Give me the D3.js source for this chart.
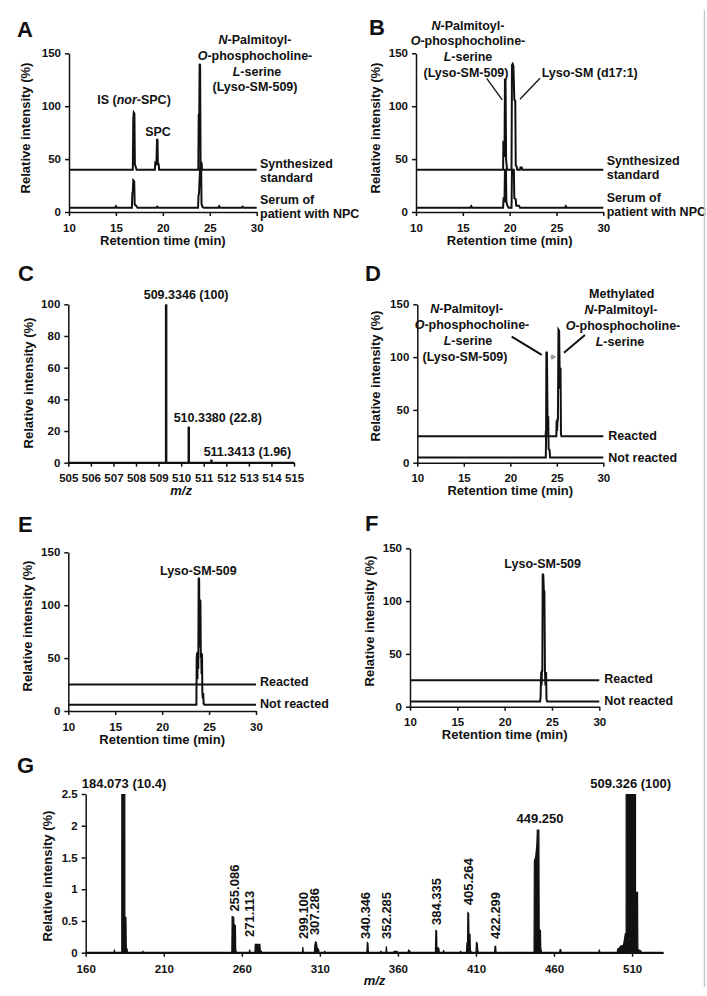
<!DOCTYPE html>
<html><head><meta charset="utf-8">
<script src="https://cdn.jsdelivr.net/npm/d3@7"></script>
<style>
body{margin:0;background:#fff;}
svg{display:block;font-family:"Liberation Sans",Arial,Helvetica,sans-serif;}
</style></head>
<body><svg id="c" width="707" height="996"></svg>
<script>
// ---------------- DATA ----------------
const rtTicks = [10, 15, 20, 25, 30];
const riTicks = [0, 50, 100, 150];
const mzTicksC = [505, 506, 507, 508, 509, 510, 511, 512, 513, 514, 515];
const riTicksC = [0, 20, 40, 60, 80, 100];
const mzTicksG = [160, 210, 260, 310, 360, 410, 460, 510];
const riTicksG = [0, 0.5, 1, 1.5, 2, 2.5];

// Panel A: retention time (min), relative intensity (%)
const aSynth = [[10,40],[16.8,40],[16.85,88],[16.9,94],[16.97,93],[17.02,45],[17.1,43],[17.2,40],
  [19.15,40],[19.2,48],[19.26,44],[19.32,48],[19.38,69],[19.43,68],[19.47,47],[19.52,44],[19.55,46],[19.6,40],
  [23.78,40],[23.82,92],[23.88,93],[23.92,140],[23.97,139],[24.02,48],[24.07,44],[24.12,47],[24.17,40],[30,40]];
const aSerum = [[10,4],[14.9,4],[15.0,5.5],[15.1,4],[16.7,4],[16.75,18],[16.8,19],[16.85,30],[16.95,29],
  [17.0,7],[17.15,6],[17.3,4],[19.3,4],[19.4,5],[19.5,4],[23.75,4],[23.8,16],[23.85,17],[23.9,28],
  [24.0,47],[24.08,46],[24.12,8],[24.2,5],[24.35,4],[25.9,4],[26.0,5.5],[26.1,4],[28.4,4],[28.5,5],[28.6,4],[30,4]];

// Panel B
const bSynth = [[10,40],[19.3,40],[19.33,65],[19.4,64],[19.45,52],[19.5,126],[19.56,125],[19.62,50],[19.7,42],[19.75,40],
  [20.2,40],[20.25,139],[20.32,140],[20.4,138],[20.5,106],[20.6,105],[20.65,44],[20.75,43],[20.8,40],
  [21.1,40],[21.15,42],[21.3,42],[21.35,40],[30,40]];
const bSerum = [[10,4],[15.8,4],[15.9,5.5],[16,4],[19.3,4],[19.35,12],[19.45,11],[19.5,40],[19.6,40],[19.65,10],
  [19.75,6],[19.9,4],[20.2,4],[20.25,40],[20.45,40],[20.5,13],[20.65,12],[20.7,6],[21.0,6],[21.1,4],
  [25.9,4],[26,5.5],[26.1,4],[30,4]];

// Panel C: m/z, relative intensity (%)
const cMz = [509.3346, 510.3380, 511.3413];
const cIntensity = [100, 22.8, 1.96];
const cLabels = ["509.3346 (100)", "510.3380 (22.8)", "511.3413 (1.96)"];

// Panel D
const dReacted = [[10,25],[23.8,25],[23.82,30],[23.86,26],[23.9,30],[23.92,25],[24.95,25],[24.98,40],[25.03,30],[25.08,41],[25.12,41],[25.18,126],
  [25.25,125],[25.3,91],[25.35,70],[25.4,90],[25.45,27],[25.5,25],[30,25]];
const dNotReacted = [[10,5],[23.82,5],[23.85,30],[23.88,105],[23.94,104],[24.0,45],[24.04,30],[24.08,44],[24.12,13],[24.22,12],[24.28,5],[30,5]];

// Panel E
const eReacted = [[10,25],[30,25]];
const eNotReacted = [[10,6],[23.65,6],[23.68,50],[23.72,55],[23.76,30],[23.8,56],[23.85,40],[23.89,126],[23.94,125],
  [23.98,60],[24.03,105],[24.08,104],[24.12,50],[24.16,55],[24.2,35],[24.25,54],[24.28,18],[24.33,12],[24.38,17],[24.42,7],[24.5,6],[30,6]];

// Panel F
const fReacted = [[10,25],[30,25]];
const fNotReacted = [[10,5],[23.75,5],[23.8,10],[23.86,33],[23.9,20],[23.94,34],[23.98,34],[24.02,126],[24.08,125],[24.14,110],[24.2,109],
  [24.26,33],[24.31,20],[24.35,32],[24.38,32],[24.42,7],[24.5,5],[30,5]];

// Panel G: MS/MS profile (m/z, relative intensity %)
const gSpectrum = [[160,0],[178.1,0],[178.4,0.05],[178.7,0],
  [183.1,0],[183.3,10.4],[184.9,10.4],[185.1,0.57],[185.8,0.55],[186.0,0.08],[186.5,0.06],[186.8,0],
  [196.3,0],[196.6,0.03],[196.9,0],
  [253.6,0],[253.8,0.57],[254.8,0.56],[255.0,0.44],[255.9,0.43],[256.1,0.05],[256.6,0],
  [264.7,0],[265.0,0.05],[265.4,0],
  [268.4,0],[268.6,0.13],[271.6,0.13],[271.8,0.04],[272.6,0.02],[272.9,0],
  [298.8,0],[299.1,0.09],[299.4,0],
  [306.5,0],[306.8,0.12],[307.2,0.17],[307.8,0.16],[308.2,0.08],[309.2,0.05],[309.5,0],
  [312.8,0],[313.1,0.03],[313.4,0],
  [340.1,0],[340.4,0.16],[340.8,0.15],[341.1,0],
  [348.8,0],[349.1,0.03],[349.4,0],
  [352.3,0],[352.6,0.1],[352.9,0],
  [357.2,0],[357.5,0.02],[359.5,0.02],[359.8,0],
  [366.5,0],[366.8,0.04],[367.6,0.03],[367.9,0],
  [384.0,0],[384.3,0.35],[384.8,0.34],[385.0,0.08],[386.2,0.07],[386.5,0],
  [389.0,0],[389.3,0.04],[389.6,0],
  [399.8,0],[400.1,0.03],[400.4,0],
  [403.9,0],[404.2,0.15],[404.6,0.15],[404.8,0.63],[405.3,0.62],[405.5,0.3],[406.2,0.29],[406.4,0.05],[407.0,0],
  [410.0,0],[410.3,0.16],[410.8,0.15],[411.1,0.05],[411.6,0],
  [421.9,0],[422.2,0.1],[422.6,0.1],[422.9,0],
  [447.2,0],[447.4,1.45],[448.2,1.5],[448.6,1.6],[449.0,1.7],[449.3,1.93],[450.3,1.93],[450.5,0.36],[451.3,0.35],[451.5,0.08],[452.0,0],
  [463.6,0],[463.9,0.05],[464.3,0.05],[464.6,0],
  [488.7,0],[489.0,0.05],[489.4,0],
  [500.5,0],[500.8,0.06],[501.5,0.06],[502.5,0.1],[504.5,0.12],[505.0,0.2],[505.7,0.3],[506.2,0.3],
  [506.4,100],[512.0,100],[512.2,0.95],[513.5,0.95],[513.7,0.05],[515.5,0.03],[516,0],[530,0]];
// rotated peak labels: text, anchor m/z, anchor intensity
const gRotLabels = [["255.086",255.086,0.6],["271.113",265.0,0.2],["299.100",299.6,0.17],["307.286",306.6,0.23],
  ["340.346",339.0,0.17],["352.285",352.5,0.17],["384.335",384.6,0.39],["405.264",405.2,0.70],["422.299",422.3,0.17]];
const gHorLabels = [["184.073 (10.4)",184.6,2.5],["449.250",451.0,1.93],["509.326 (100)",509.1,2.5]];

// ---------------- DRAWING ----------------
const svg = d3.select("#c");
const INK = "#111";
const FS = {tick: 11.5, title: 13, ann: 12.5, g: 13, letter: 22};

function label(x, y, segs, opt = {}) {
  const t = svg.append("text").attr("x", x).attr("y", y)
    .attr("text-anchor", opt.anchor || "start")
    .attr("font-size", opt.size || FS.ann).attr("font-weight", "bold").attr("fill", INK);
  if (opt.dy) t.attr("dy", opt.dy);
  if (opt.rotate) t.attr("transform", `rotate(-90,${x},${y})`);
  (typeof segs === "string" ? [[segs, 0]] : segs).forEach(([s, it]) => {
    const ts = t.append("tspan").text(s);
    if (it) ts.attr("font-style", "italic");
  });
  return t;
}

function styleAxis(g) {
  g.attr("font-size", FS.tick).attr("font-family", null).attr("font-weight", "bold");
  g.selectAll(".domain").attr("stroke", INK).attr("stroke-width", 1.5);
  g.selectAll(".tick line").attr("stroke", INK).attr("stroke-width", 1.5);
  g.selectAll(".tick text").attr("fill", INK);
}

function axes(p, x, y, xt, yt, yfmt) {
  const gx = svg.append("g").attr("transform", `translate(0,${p.y0})`)
    .call(d3.axisBottom(x).tickValues(xt).tickSize(4).tickSizeOuter(0).tickPadding(p.xpad || 7.5).tickFormat(d3.format("d")));
  styleAxis(gx);
  const gy = svg.append("g").attr("transform", `translate(${p.x0},0)`)
    .call(d3.axisLeft(y).tickValues(yt).tickSize(4).tickSizeOuter(0).tickPadding(4).tickFormat(yfmt || d3.format("d")));
  styleAxis(gy);
}

function yTitle(cx, cy) {
  label(cx, cy, "Relative intensity (%)", {anchor: "middle", rotate: true, dy: "0.35em", size: FS.title});
}

function chrom(p) {
  const x = d3.scaleLinear().domain([10, 30]).range([p.x0, p.x1]);
  const y = d3.scaleLinear().domain([0, 150]).range([p.y0, p.yTop]);
  axes(p, x, y, rtTicks, riTicks);
  const line = d3.line().x(d => x(d[0])).y(d => y(d[1]));
  p.traces.forEach(tr => svg.append("path").attr("d", line(tr)).attr("fill", "none")
    .attr("stroke", INK).attr("stroke-width", 2).attr("stroke-linejoin", "miter"));
  label((p.x0 + p.x1) / 2, p.y0 + 32.5, "Retention time (min)", {anchor: "middle", size: FS.title});
  yTitle(p.ytx, p.yty);
  return {x, y};
}

// Panel letters
[["A",17,37],["B",369,35],["C",18,281],["D",365,281],["E",18,532],["F",365,531],["G",17,773]]
  .forEach(([s,x,y]) => label(x, y, s, {size: FS.letter}));

// ---- A ----
chrom({x0: 69, x1: 256.7, y0: 212, yTop: 53.3, traces: [aSynth, aSerum], ytx: 25.5, yty: 128});
label(134, 104, [["IS (",0],["nor",1],["-SPC)",0]], {anchor: "middle"});
label(158, 136, "SPC", {anchor: "middle"});
label(255, 44, [["N",1],["-Palmitoyl-",0]], {anchor: "middle"});
label(255, 59.5, [["O",1],["-phosphocholine-",0]], {anchor: "middle"});
label(257, 75.5, [["L",1],["-serine",0]], {anchor: "middle"});
label(255, 91, "(Lyso-SM-509)", {anchor: "middle"});
label(260, 168, "Synthesized");
label(260, 182, "standard");
label(260, 204, "Serum of");
label(260, 218, "patient with NPC");

// ---- B ----
const bS = chrom({x0: 416, x1: 603.3, y0: 212, yTop: 53.3, traces: [bSynth, bSerum], ytx: 375.8, yty: 128});
label(468, 29.5, [["N",1],["-Palmitoyl-",0]], {anchor: "middle"});
label(468, 45, [["O",1],["-phosphocholine-",0]], {anchor: "middle"});
label(468, 61, [["L",1],["-serine",0]], {anchor: "middle"});
label(466, 77, "(Lyso-SM-509)", {anchor: "middle"});
label(541.7, 77, "Lyso-SM (d17:1)");
[[[17.55,126.4],[19.21,105.9]],[[23.24,126.4],[21.1,106.6]]].forEach(l =>
  svg.append("line").attr("x1", bS.x(l[0][0])).attr("y1", bS.y(l[0][1])).attr("x2", bS.x(l[1][0])).attr("y2", bS.y(l[1][1]))
    .attr("stroke", INK).attr("stroke-width", 1.3));
label(606.7, 165, "Synthesized");
label(606.7, 179, "standard");
label(606.7, 201.5, "Serum of");
label(606.7, 215.5, "patient with NPC");

// ---- C ----
{
  const p = {x0: 68.3, x1: 294, y0: 462.7, yTop: 304.3, xpad: 7.5};
  const x = d3.scaleLinear().domain([505, 515]).range([p.x0, p.x1]);
  const y = d3.scaleLinear().domain([0, 100]).range([p.y0, p.yTop]);
  axes(p, x, y, mzTicksC, riTicksC);
  svg.selectAll(null).data(cMz).enter().append("line")
    .attr("x1", d => x(d)).attr("x2", d => x(d)).attr("y1", y(0)).attr("y2", (d, i) => y(cIntensity[i]))
    .attr("stroke", INK).attr("stroke-width", 2.5);
  svg.append("line").attr("x1", x(505)).attr("x2", x(515)).attr("y1", y(0)).attr("y2", y(0)).attr("stroke", INK).attr("stroke-width", 2);
  const off = [[20, -5], [29, -4.5], [36, -4]];
  cLabels.forEach((s, i) => label(x(cMz[i]) + off[i][0], y(cIntensity[i]) + off[i][1], s, {anchor: "middle"}));
  label((p.x0 + p.x1) / 2, p.y0 + 32, [["m/z",1]], {anchor: "middle", size: FS.title});
  yTitle(28.3, 383);
}

// ---- D ----
const dS = chrom({x0: 417.3, x1: 603.3, y0: 462.7, yTop: 304.3, traces: [dReacted, dNotReacted], ytx: 375, yty: 376});
label(466.7, 313, [["N",1],["-Palmitoyl-",0]], {anchor: "middle"});
label(472, 329, [["O",1],["-phosphocholine-",0]], {anchor: "middle"});
label(468, 345, [["L",1],["-serine",0]], {anchor: "middle"});
label(465, 360.5, "(Lyso-SM-509)", {anchor: "middle"});
label(621.7, 298, "Methylated", {anchor: "middle"});
label(621, 314, [["N",1],["-Palmitoyl-",0]], {anchor: "middle"});
label(623, 329.5, [["O",1],["-phosphocholine-",0]], {anchor: "middle"});
label(620, 345.5, [["L",1],["-serine",0]], {anchor: "middle"});
[[[20.15,119.4],[23.38,102.1]],[[28.03,121],[25.77,104.2]]].forEach(l =>
  svg.append("line").attr("x1", dS.x(l[0][0])).attr("y1", dS.y(l[0][1])).attr("x2", dS.x(l[1][0])).attr("y2", dS.y(l[1][1]))
    .attr("stroke", INK).attr("stroke-width", 2));
{
  const ax0 = dS.x(24.3), ax1 = dS.x(24.95), ay = dS.y(100);
  svg.append("line").attr("x1", ax0).attr("x2", ax1 - 4).attr("y1", ay).attr("y2", ay).attr("stroke", "#999").attr("stroke-width", 1.5);
  svg.append("path").attr("d", `M${ax1},${ay}L${ax1-5},${ay-3}L${ax1-5},${ay+3}Z`).attr("fill", "#999");
}
label(608.3, 440, "Reacted");
label(608.3, 461.5, "Not reacted");

// ---- E ----
chrom({x0: 68.3, x1: 256, y0: 711, yTop: 552.3, traces: [eReacted, eNotReacted], ytx: 27.5, yty: 626});
label(198.3, 574.5, "Lyso-SM-509", {anchor: "middle"});
label(260, 686, "Reacted");
label(260, 708, "Not reacted");

// ---- F ----
chrom({x0: 410, x1: 599.3, y0: 706.7, yTop: 548.3, traces: [fReacted, fNotReacted], ytx: 369, yty: 621});
label(542.7, 568, "Lyso-SM-509", {anchor: "middle"});
label(604.3, 682.5, "Reacted");
label(604.3, 704.5, "Not reacted");

// ---- G ----
{
  const p = {x0: 85.7, x1: 663.3, y0: 952.7, yTop: 794, xpad: 8};
  const x = d3.scaleLinear().domain([160, 530]).range([p.x0, p.x1]);
  const y = d3.scaleLinear().domain([0, 2.5]).range([p.y0, p.yTop]);
  svg.append("clipPath").attr("id", "gclip").append("rect")
    .attr("x", p.x0).attr("y", p.yTop).attr("width", p.x1 - p.x0).attr("height", p.y0 - p.yTop + 2);
  const area = d3.area().x(d => x(d[0])).y0(y(0)).y1(d => y(d[1]));
  const line = d3.line().x(d => x(d[0])).y(d => y(d[1]));
  const gg = svg.append("g").attr("clip-path", "url(#gclip)");
  gg.append("path").attr("d", area(gSpectrum)).attr("fill", INK);
  gg.append("path").attr("d", line(gSpectrum)).attr("fill", "none").attr("stroke", INK).attr("stroke-width", 1.2);
  axes(p, x, y, mzTicksG, riTicksG, d3.format("~g"));
  svg.append("line").attr("x1", x(160)).attr("x2", x(530)).attr("y1", y(0)).attr("y2", y(0)).attr("stroke", INK).attr("stroke-width", 2);
  gRotLabels.forEach(([s, m, v]) => label(x(m), y(v) - 3, s, {rotate: true, dy: "0.35em", size: FS.g}));
  gHorLabels.forEach(([s, m, v], i) => label(x(m), y(v) - (i === 1 ? 7 : 6), s, {anchor: "middle", size: FS.g}));
  label((p.x0 + p.x1) / 2, p.y0 + 32.5, [["m/z",1]], {anchor: "middle", size: FS.title});
  yTitle(47.5, 876);
}

// right border
svg.append("line").attr("x1", 704.5).attr("x2", 704.5).attr("y1", 10).attr("y2", 987).attr("stroke", "#c8c8c8").attr("stroke-width", 1.5);
</script>
</body></html>
